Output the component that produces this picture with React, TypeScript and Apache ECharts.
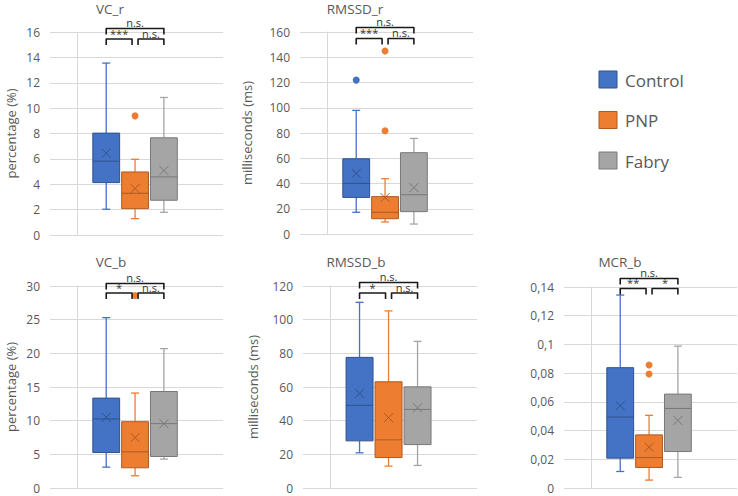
import React, { useEffect, useRef } from "react";
import * as echarts from "echarts";

const groups = ["Control", "PNP", "Fabry"];
const groupX = [1, 2, 3];

// Each row: [whiskerLow, q1, median, q3, whiskerHigh, mean]
const vcR = [
  [2.03, 4.13, 5.82, 8.03, 13.55, 6.45],
  [1.29, 2.08, 3.29, 4.97, 5.97, 3.66],
  [1.79, 2.74, 4.58, 7.66, 10.84, 5.08],
];
const vcROutliers = [[], [9.39], []];
const rmssdR = [
  [17.2, 29.0, 40.1, 59.6, 97.9, 48.0],
  [9.5, 12.1, 17.2, 29.6, 43.8, 28.8],
  [7.9, 17.7, 31.1, 64.4, 75.7, 36.7],
];
const rmssdROutliers = [[121.9], [144.9, 81.8], []];
const vcB = [
  [3.1, 5.27, 10.25, 13.35, 25.3, 10.5],
  [1.82, 3.0, 5.37, 9.85, 14.1, 7.49],
  [4.29, 4.68, 9.56, 14.33, 20.7, 9.56],
];
const vcBOutliers = [[], [28.6], []];
const rmssdB = [
  [20.9, 28.0, 49.1, 77.6, 110.3, 56.2],
  [13.0, 18.1, 28.6, 63.1, 105.2, 41.8],
  [13.4, 25.8, 46.7, 60.1, 87.1, 47.7],
];
const rmssdBOutliers = [[], [], []];
const mcrB = [
  [0.0115, 0.0208, 0.0494, 0.0838, 0.1344, 0.0573],
  [0.0055, 0.0143, 0.0212, 0.037, 0.0506, 0.0284],
  [0.0074, 0.0254, 0.0554, 0.0654, 0.0988, 0.0471],
];
const mcrBOutliers = [[], [0.0857, 0.0794], []];

// Significance: [Control-PNP, PNP-Fabry, Control-Fabry]
const vcRSig = ["***", "n.s.", "n.s."];
const rmssdRSig = ["***", "n.s.", "n.s."];
const vcBSig = ["*", "n.s.", "n.s."];
const rmssdBSig = ["*", "n.s.", "n.s."];
const mcrBSig = ["**", "*", "n.s."];

const COLORS = ["#4472C4", "#ED7D31", "#A5A5A5"];
const DARK = ["#2F528F", "#AE5A21", "#787878"];
const TXT = "#595959";
const FONT = "'Open Sans', sans-serif";

const panels = [
  { title: "VC_r", yName: "percentage (%)", box: vcR, out: vcROutliers, sig: vcRSig, max: 16, interval: 2,
    grid: { left: 50, top: 32, width: 173, height: 203 }, nameGap: 33, up: -3.5, low: 7, titleX: 110, titleY: 8.5 },
  { title: "RMSSD_r", yName: "milliseconds (ms)", box: rmssdR, out: rmssdROutliers, sig: rmssdRSig, max: 160, interval: 20,
    grid: { left: 300, top: 32, width: 173, height: 202 }, nameGap: 47, up: -4.5, low: 6.5, titleX: 355, titleY: 8.5 },
  { title: "VC_b", yName: "percentage (%)", box: vcB, out: vcBOutliers, sig: vcBSig, max: 30, interval: 5,
    grid: { left: 50, top: 286, width: 173, height: 202 }, nameGap: 33, up: -2.5, low: 7, titleX: 111, titleY: 262 },
  { title: "RMSSD_b", yName: "milliseconds (ms)", box: rmssdB, out: rmssdBOutliers, sig: rmssdBSig, max: 120, interval: 20,
    grid: { left: 303, top: 286, width: 174, height: 202 }, nameGap: 44, up: -3.5, low: 7, titleX: 356, titleY: 262 },
  { title: "MCR_b", yName: "", box: mcrB, out: mcrBOutliers, sig: mcrBSig, max: 0.14, interval: 0.02,
    grid: { left: 564, top: 287, width: 173, height: 201 }, nameGap: 30, up: -8.5, low: 1.5, titleX: 620, titleY: 262, comma: true },
];

function renderBox(params: any, api: any) {
  const i = params.dataIndex;
  const x = api.value(0);
  const wl = api.value(1), q1 = api.value(2), med = api.value(3), q3 = api.value(4), wh = api.value(5), mean = api.value(6);
  const cx = api.coord([x, med])[0];
  const y = (v: number) => api.coord([x, v])[1];
  const bw = api.size([0.93, 0])[0];
  const h = bw / 2;
  const cap = 4;
  const c = COLORS[i];
  const d = DARK[i];
  const m = 4.5;
  const my = y(mean);
  return {
    type: "group",
    children: [
      { type: "line", shape: { x1: cx, y1: y(wh), x2: cx, y2: y(q3) }, style: { stroke: c, lineWidth: 1.3 } },
      { type: "line", shape: { x1: cx, y1: y(q1), x2: cx, y2: y(wl) }, style: { stroke: c, lineWidth: 1.3 } },
      { type: "line", shape: { x1: cx - cap, y1: y(wh), x2: cx + cap, y2: y(wh) }, style: { stroke: c, lineWidth: 1.3 } },
      { type: "line", shape: { x1: cx - cap, y1: y(wl), x2: cx + cap, y2: y(wl) }, style: { stroke: c, lineWidth: 1.3 } },
      { type: "rect", shape: { x: cx - h, y: y(q3), width: bw, height: y(q1) - y(q3) }, style: { fill: c, stroke: d, lineWidth: 1 } },
      { type: "line", shape: { x1: cx - h, y1: y(med), x2: cx + h, y2: y(med) }, style: { stroke: d, lineWidth: 1 } },
      { type: "line", shape: { x1: cx - m, y1: my - m, x2: cx + m, y2: my + m }, style: { stroke: d, lineWidth: 1 } },
      { type: "line", shape: { x1: cx - m, y1: my + m, x2: cx + m, y2: my - m }, style: { stroke: d, lineWidth: 1 } },
    ],
  };
}

function makeBracketRender(sig: string[], up: number, low: number) {
  return function (params: any, api: any) {
    const i = params.dataIndex;
    const from = api.value(0);
    const to = api.value(1);
    const level = api.value(2);
    const top = params.coordSys.y;
    let x1 = api.coord([from, 0])[0];
    let x2 = api.coord([to, 0])[0];
    if (level === 0 && to === 2) x2 -= 3;
    if (level === 0 && from === 2) x1 += 3;
    const yy = top + (level === 1 ? up : low);
    const hh = 6;
    return {
      type: "group",
      children: [
        {
          type: "polyline",
          shape: { points: [[x1, yy + hh], [x1, yy], [x2, yy], [x2, yy + hh]] },
          style: { stroke: "#1a1a1a", lineWidth: 1.6, fill: "none", lineJoin: "round" },
        },
        {
          type: "text",
          x: (x1 + x2) / 2,
          y: yy - 0.5,
          style: {
            text: sig[i],
            fill: "#333",
            font: `11px ${FONT}`,
            lineHeight: 11,
            textAlign: "center",
            textVerticalAlign: "bottom",
          },
        },
      ],
    };
  };
}

export default function App() {
  const ref = useRef<HTMLDivElement>(null);
  useEffect(() => {
    if (!ref.current) return;
    const chart = echarts.init(ref.current, undefined, { renderer: "svg" });
    const grid: any[] = [];
    const xAxis: any[] = [];
    const yAxis: any[] = [];
    const series: any[] = [];
    const graphic: any[] = [];
    panels.forEach((p, k) => {
      grid.push(p.grid);
      xAxis.push({ type: "value", gridIndex: k, min: -0.95, max: 5.05, show: false });
      yAxis.push({
        type: "value",
        gridIndex: k,
        min: 0,
        max: p.max,
        interval: p.interval,
        name: p.yName,
        nameLocation: "middle",
        nameRotate: 90,
        nameGap: p.nameGap,
        nameTextStyle: { color: TXT, fontFamily: FONT, fontSize: 13 },
        axisLine: { show: true, lineStyle: { color: "#d9d9d9" } },
        axisTick: { show: false },
        splitLine: { lineStyle: { color: "#d9d9d9" } },
        axisLabel: {
          color: TXT,
          fontFamily: FONT,
          fontSize: 12,
          lineHeight: 10,
          margin: 10,
          formatter: (v: number) => {
            const s = String(Number(v.toFixed(4)));
            return p.comma ? s.replace(".", ",") : s;
          },
        },
      });
      series.push({
        type: "custom",
        xAxisIndex: k,
        yAxisIndex: k,
        renderItem: renderBox,
        encode: { x: 0, y: [1, 2, 3, 4, 5, 6] },
        data: p.box.map((b, i) => [groupX[i], ...b]),
        z: 2,
      });
      const outData: any[] = [];
      p.out.forEach((arr, i) => arr.forEach((v) => outData.push([groupX[i], v, i])));
      series.push({
        type: "scatter",
        xAxisIndex: k,
        yAxisIndex: k,
        symbolSize: 7,
        data: outData,
        itemStyle: { color: (pp: any) => COLORS[pp.value[2]], opacity: 1 },
        z: 3,
      });
      series.push({
        type: "custom",
        xAxisIndex: k,
        yAxisIndex: k,
        clip: false,
        renderItem: makeBracketRender(p.sig, p.up, p.low),
        encode: { x: [0, 1], y: 2 },
        data: [
          [groupX[0], groupX[1], 0],
          [groupX[1], groupX[2], 0],
          [groupX[0], groupX[2], 1],
        ],
        z: 4,
      });
      graphic.push({
        type: "text",
        x: p.titleX,
        y: p.titleY,
        style: {
          text: p.title,
          fill: TXT,
          font: `13.5px ${FONT}`,
          lineHeight: 13,
          textAlign: "center",
          textVerticalAlign: "middle",
        },
      });
    });
    groups.forEach((g, i) => {
      const ly = 71 + i * 40.5;
      graphic.push({
        type: "rect",
        shape: { x: 599, y: ly, width: 18, height: 17 },
        style: { fill: COLORS[i], stroke: DARK[i], lineWidth: 1 },
      });
      graphic.push({
        type: "text",
        x: 625,
        y: ly + 9,
        style: { text: g, fill: TXT, font: `17px ${FONT}`, textAlign: "left", textVerticalAlign: "middle" },
      });
    });
    chart.setOption({
      animation: false,
      backgroundColor: "#ffffff",
      grid,
      xAxis,
      yAxis,
      series,
      graphic,
    });
    return () => chart.dispose();
  }, []);
  return (
    <div
      ref={ref}
      style={{ position: "fixed", left: 0, top: 0, width: 738, height: 496 }}
    />
  );
}
